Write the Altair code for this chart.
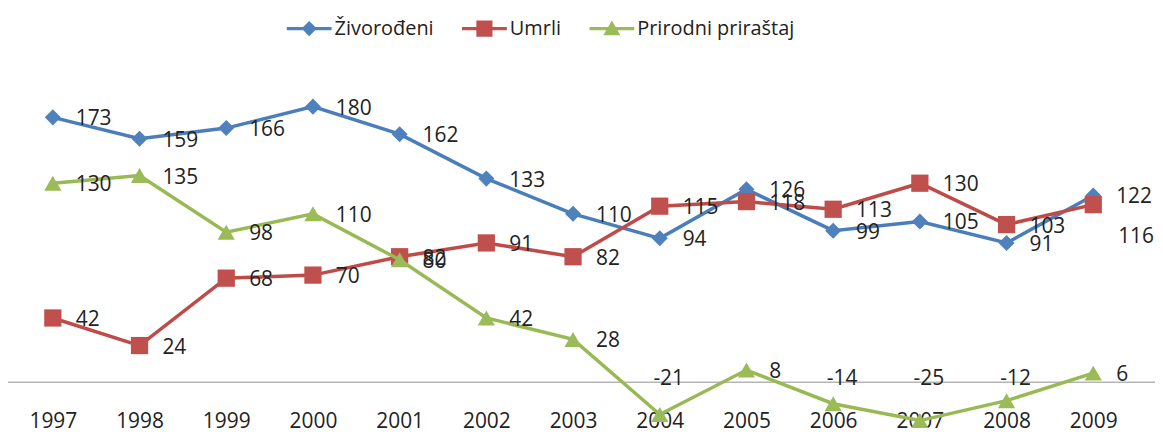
import altair as alt
import pandas as pd

years = [1997, 1998, 1999, 2000, 2001, 2002, 2003, 2004, 2005, 2006, 2007, 2008, 2009]
zivorodeni = [173, 159, 166, 180, 162, 133, 110, 94, 126, 99, 105, 91, 122]
umrli = [42, 24, 68, 70, 82, 91, 82, 115, 118, 113, 130, 103, 116]
prirastaj = [130, 135, 98, 110, 80, 42, 28, -21, 8, -14, -25, -12, 6]

series_names = ["Živorođeni", "Umrli", "Prirodni priraštaj"]
series_values = [zivorodeni, umrli, prirastaj]
line_colors = ["#4A7EBB", "#BE4B48", "#98B954"]
marker_colors = ["#4F81BD", "#C0504D", "#9BBB59"]
marker_shapes = ["diamond", "square", "triangle-up"]
marker_sizes = [260, 300, 300]
legend_paths = [
    "M-1,-0.07H1V0.07H-1Z M0,-0.34L0.34,0L0,0.34L-0.34,0Z",
    "M-1,-0.07H1V0.07H-1Z M-0.36,-0.36H0.36V0.36H-0.36Z",
    "M-1,-0.07H1V0.07H-1Z M0,-0.36L0.38,0.3H-0.38Z",
]

rows = []
for name, vals in zip(series_names, series_values):
    for yr, v in zip(years, vals):
        rows.append({"year": yr, "value": v, "series": name})
df = pd.DataFrame(rows)

FONT = "Open Sans"
TXT = "#222222"

x_enc = alt.X(
    "year:Q",
    scale=alt.Scale(domain=[1996.483, 2009.712], nice=False, zero=False),
    axis=alt.Axis(
        values=years, format="d", title=None, domain=False, ticks=False, tickSize=0,
        grid=False, labelFont=FONT, labelFontSize=21, labelColor=TXT,
        labelPadding=8, labelFlush=False, labelOverlap=False,
    ),
)
y_scale = alt.Scale(domain=[-13, 210], nice=False, zero=False)
y_enc = alt.Y("value:Q", scale=y_scale, axis=None)

base = alt.Chart(df).transform_calculate(label="'' + datum.value")

zero_rule = alt.Chart(pd.DataFrame({"z": [0]})).mark_rule(
    color="#b5b5b5", strokeWidth=1.6
).encode(y=alt.Y("z:Q", scale=y_scale, axis=None))

layers = [zero_rule]
for name, lc, mc, shp, sz in zip(series_names, line_colors, marker_colors, marker_shapes, marker_sizes):
    sub = base.transform_filter(alt.datum.series == name)
    layers.append(sub.mark_line(color=lc, strokeWidth=3.5).encode(x=x_enc, y=y_enc))
    layers.append(
        sub.mark_point(shape=shp, filled=True, size=sz, color=mc, opacity=1).encode(x=x_enc, y=y_enc)
    )

pos_labels = base.transform_filter(
    "datum.value >= 0 && !(datum.series == 'Umrli' && datum.year == 2009)"
).mark_text(
    align="left", baseline="middle", dx=23, dy=2, font=FONT, fontSize=21, color=TXT
).encode(x=x_enc, y=y_enc, text="label:N")

last_umrli = base.transform_filter(
    "datum.series == 'Umrli' && datum.year == 2009"
).mark_text(
    align="left", baseline="middle", dx=25, dy=33, font=FONT, fontSize=21, color=TXT
).encode(x=x_enc, y=y_enc, text="label:N")

neg_labels = base.transform_filter("datum.value < 0").transform_calculate(
    ly="max(datum.value, 0)"
).mark_text(
    align="center", baseline="middle", dx=9, dy=-3, font=FONT, fontSize=21, color=TXT
).encode(x=x_enc, y=alt.Y("ly:Q", scale=y_scale, axis=None), text="label:N")

leg = alt.Legend(
    title=None, orient="none", legendX=280, legendY=-55, direction="horizontal",
    symbolSize=2025, symbolOpacity=1, symbolStrokeWidth=0,
    labelFont=FONT, labelFontSize=20, labelColor=TXT, labelOffset=3,
    columnPadding=28, padding=0,
)
legend_layer = base.transform_filter("false").mark_point(filled=True, opacity=1, size=2025).encode(
    x=x_enc, y=y_enc,
    color=alt.Color("series:N", scale=alt.Scale(domain=series_names, range=marker_colors), legend=leg),
    shape=alt.Shape("series:N", scale=alt.Scale(domain=series_names, range=legend_paths), legend=leg),
)

layers += [pos_labels, last_umrli, neg_labels, legend_layer]

chart = alt.layer(*layers).properties(
    width=1152, height=343,
    padding={"left": 0, "top": 52, "right": 0, "bottom": 30},
    autosize=alt.AutoSizeParams(type="none"),
    background="white",
).configure_view(stroke=None)

chart.save("out.html", embed_options={"renderer": "svg", "actions": False})
